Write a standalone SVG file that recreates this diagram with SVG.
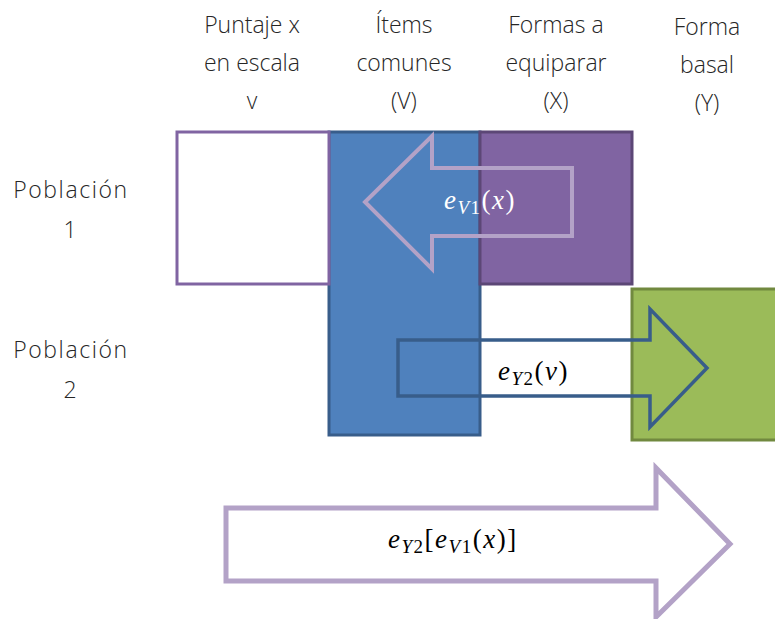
<svg xmlns="http://www.w3.org/2000/svg" width="775" height="619" viewBox="0 0 775 619">
<style>
.lbl{font-family:"Open Sans","Liberation Sans",sans-serif;font-weight:300;font-size:23px;fill:#262626;text-anchor:middle}
.row{letter-spacing:1.6px}
.math{font-family:"Liberation Serif","DejaVu Serif",serif;font-size:27px;letter-spacing:1.5px}
.it{font-style:italic}
.sub{font-size:19px}
.arrowL{fill:none;stroke:#B3A2C7;stroke-linejoin:miter}
</style>
<rect width="775" height="619" fill="#ffffff"/>
<g id="headers">
<text class="lbl" x="252" y="33">Puntaje x</text>
<text class="lbl" x="252" y="71">en escala</text>
<text class="lbl" x="252" y="109">v</text>
<text class="lbl" x="404" y="33">Ítems</text>
<text class="lbl" x="404" y="71">comunes</text>
<text class="lbl" x="404" y="109">(V)</text>
<text class="lbl" x="556" y="33">Formas a</text>
<text class="lbl" x="556" y="71">equiparar</text>
<text class="lbl" x="556" y="109">(X)</text>
<text class="lbl" x="707" y="35">Forma</text>
<text class="lbl" x="707" y="73">basal</text>
<text class="lbl" x="707" y="111">(Y)</text>
</g>
<g id="rows">
<text class="lbl row" x="71" y="198">Población</text>
<text class="lbl" x="70" y="238">1</text>
<text class="lbl row" x="71" y="358">Población</text>
<text class="lbl" x="70" y="398">2</text>
</g>
<g id="node-items-comunes">
<rect x="329" y="132" width="151" height="303" fill="#4F81BD" stroke="#385D8A" stroke-width="3"/>
</g>
<g id="node-puntaje">
<rect x="177" y="132" width="152" height="152" fill="#ffffff" stroke="#8064A2" stroke-width="3"/>
</g>
<g id="node-formas">
<rect x="480" y="132" width="152" height="152" fill="#8064A2" stroke="#5C4776" stroke-width="3"/>
</g>
<g id="node-basal">
<rect x="632" y="289" width="160" height="151" fill="#9BBB59" stroke="#71893F" stroke-width="3"/>
</g>
<g id="connectors">
<g id="arrow-eV1">
<polygon class="arrowL" stroke-width="4" points="572,168 432,168 432,136 365,202 432,269 432,236 572,236"/>
<text class="math" x="444" y="209" fill="#ffffff"><tspan class="it">e</tspan><tspan class="sub it" dy="5">V</tspan><tspan class="sub">1</tspan><tspan dy="-5">(</tspan><tspan class="it">x</tspan>)</text>
</g>
<g id="arrow-eY2">
<polygon fill="none" stroke="#385D8A" stroke-width="3.5" points="398,340 650,340 650,309 707,368 650,427 650,396 398,396"/>
<text class="math" x="498" y="380" fill="#000000"><tspan class="it">e</tspan><tspan class="sub it" dy="5">Y</tspan><tspan class="sub">2</tspan><tspan dy="-5">(</tspan><tspan class="it">v</tspan>)</text>
</g>
<g id="arrow-total">
<polygon class="arrowL" stroke-width="5" points="226,508 656,508 656,468 730,544 656,617 656,581 226,581"/>
<text class="math" x="388" y="548" fill="#000000"><tspan class="it">e</tspan><tspan class="sub it" dy="5">Y</tspan><tspan class="sub">2</tspan><tspan dy="-5">[</tspan><tspan class="it">e</tspan><tspan class="sub it" dy="5">V</tspan><tspan class="sub">1</tspan><tspan dy="-5">(</tspan><tspan class="it">x</tspan>)]</text>
</g>
</g>
</svg>
